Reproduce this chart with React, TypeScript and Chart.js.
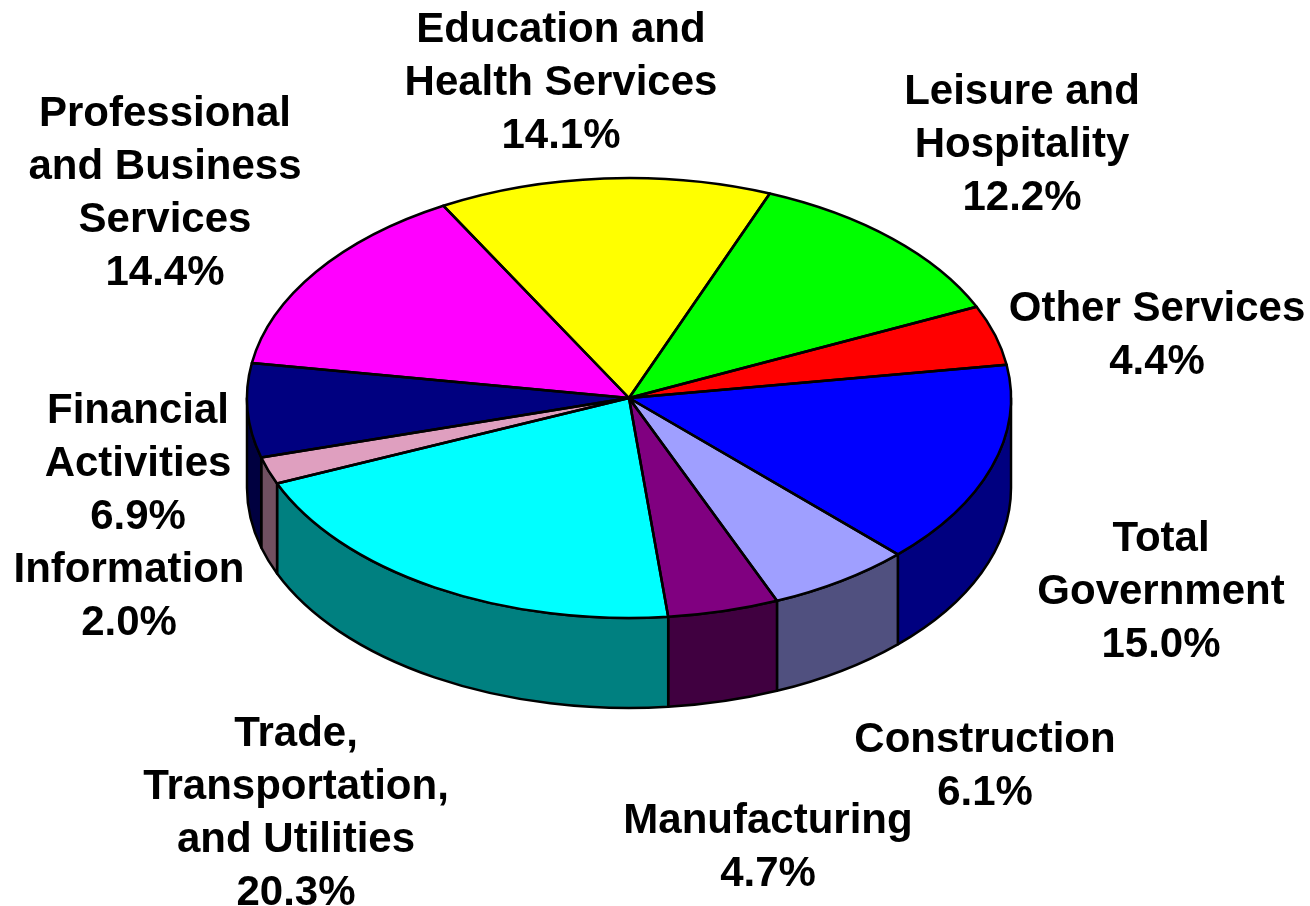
import React, { useEffect, useRef } from "react";
import { Chart, registerables } from "chart.js";

Chart.register(...registerables);

const categories = [
  "Other Services",
  "Total Government",
  "Construction",
  "Manufacturing",
  "Trade, Transportation, and Utilities",
  "Information",
  "Financial Activities",
  "Professional and Business Services",
  "Education and Health Services",
  "Leisure and Hospitality",
];
const shares = [4.4, 15.0, 6.1, 4.7, 20.3, 2.0, 6.9, 14.4, 14.1, 12.2];
const topColors = ["#ff0000", "#0000ff", "#9f9fff", "#800080", "#00ffff", "#df9fbf", "#000080", "#ff00ff", "#ffff00", "#00ff00"];
const wallColors = ["#800000", "#000080", "#50507f", "#400040", "#008080", "#705060", "#000040", "#800080", "#808000", "#008000"];

// label lines per category, in the same order as the data
const labelLines = [
  ["Other Services"],
  ["Total", "Government"],
  ["Construction"],
  ["Manufacturing"],
  ["Trade,", "Transportation,", "and Utilities"],
  ["Information"],
  ["Financial", "Activities"],
  ["Professional", "and Business", "Services"],
  ["Education and", "Health Services"],
  ["Leisure and", "Hospitality"],
];
// layout: centre x and first-line middle y for each label block
const labelAnchors = [
  [1157, 309],
  [1161, 539],
  [985, 740],
  [768, 821],
  [296, 734],
  [129, 570],
  [138, 411],
  [165, 114],
  [561, 30],
  [1022, 92],
];

const RADIUS_X = 382;
const RADIUS_Y = 220;
const DEPTH = 90;
const LINE_STEP = 53;
const FONT = 'bold 42px "Liberation Sans", Arial, sans-serif';
const LINE_WIDTH = 2.5;

const squash = RADIUS_Y / RADIUS_X;

function arcPath(ctx: CanvasRenderingContext2D, x: number, y: number, r: number, a: number, b: number) {
  ctx.save();
  ctx.translate(x, y);
  ctx.scale(1, squash);
  ctx.beginPath();
  ctx.moveTo(0, 0);
  ctx.arc(0, 0, r, a, b);
  ctx.closePath();
  ctx.restore();
}

function wallPath(ctx: CanvasRenderingContext2D, x: number, y: number, r: number, a: number, b: number) {
  ctx.beginPath();
  ctx.ellipse(x, y, r, r * squash, 0, a, b);
  ctx.ellipse(x, y + DEPTH, r, r * squash, 0, b, a, true);
  ctx.closePath();
}

const pie3d = {
  id: "pie3d",
  beforeDatasetsDraw(chart: any) {
    const ctx: CanvasRenderingContext2D = chart.ctx;
    const arcs = chart.getDatasetMeta(0).data;
    ctx.save();
    ctx.lineWidth = LINE_WIDTH;
    ctx.strokeStyle = "#000";
    ctx.lineJoin = "round";
    arcs.forEach((el: any, i: number) => {
      const a = Math.max(el.startAngle, 0);
      const b = Math.min(el.endAngle, Math.PI);
      if (b <= a) return;
      wallPath(ctx, el.x, el.y, el.outerRadius, a, b);
      ctx.fillStyle = wallColors[i];
      ctx.fill();
      ctx.stroke();
    });
    ctx.restore();
    // the flat top of the pie is drawn squashed into an ellipse
    const first = arcs[0];
    ctx.save();
    ctx.translate(first.x, first.y);
    ctx.scale(1, squash);
    ctx.translate(-first.x, -first.y);
  },
  afterDatasetsDraw(chart: any) {
    const ctx: CanvasRenderingContext2D = chart.ctx;
    ctx.restore();
    const arcs = chart.getDatasetMeta(0).data;
    ctx.save();
    ctx.lineWidth = LINE_WIDTH;
    ctx.strokeStyle = "#000";
    ctx.lineJoin = "round";
    arcs.forEach((el: any) => {
      arcPath(ctx, el.x, el.y, el.outerRadius, el.startAngle, el.endAngle);
      ctx.stroke();
    });
    ctx.fillStyle = "#000";
    ctx.font = FONT;
    ctx.textAlign = "center";
    ctx.textBaseline = "middle";
    labelLines.forEach((lines, i) => {
      const [cx, cy] = labelAnchors[i];
      const all = [...lines, `${shares[i].toFixed(1)}%`];
      all.forEach((t, k) => ctx.fillText(t, cx, cy + k * LINE_STEP));
    });
    ctx.restore();
  },
};

export default function App() {
  const ref = useRef<HTMLCanvasElement>(null);
  useEffect(() => {
    document.body.style.margin = "0";
    document.body.style.background = "#fff";
    const chart = new Chart(ref.current!, {
      type: "pie",
      data: {
        labels: categories,
        datasets: [
          {
            data: shares,
            backgroundColor: topColors,
            borderWidth: 0,
            radius: RADIUS_X,
          } as any,
        ],
      },
      options: {
        animation: false,
        responsive: false,
        rotation: 65.5,
        layout: { padding: { left: 0, top: 0, right: 52, bottom: 110 } },
        plugins: { legend: { display: false }, tooltip: { enabled: false }, title: { display: false } },
      },
      plugins: [pie3d],
    });
    return () => chart.destroy();
  }, []);
  return <canvas ref={ref} width={1310} height={906} style={{ display: "block" }} />;
}
